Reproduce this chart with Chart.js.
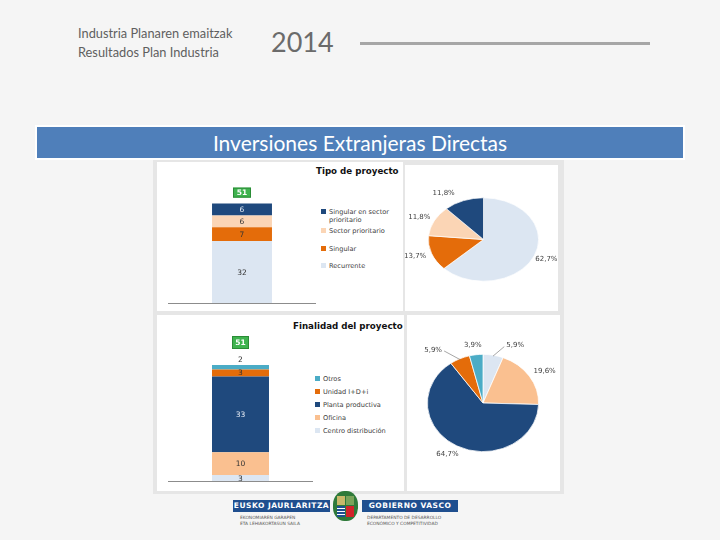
<!DOCTYPE html>
<html>
<head>
<meta charset="utf-8">
<script src="https://cdn.jsdelivr.net/npm/chart.js@4.4.0/dist/chart.umd.min.js"></script>
<style>
  html, body { margin: 0; padding: 0; }
  body { width: 720px; height: 540px; background: #f5f5f5; position: relative; overflow: hidden; font-family: Lato, "Open Sans", sans-serif; }
  .abs { position: absolute; }
  .hdr { color: #5f5f5f; font-size: 12.8px; line-height: 16px; white-space: nowrap; }
  .panel { background: #fff; }
  .ctitle { font-family: "DejaVu Sans", sans-serif; font-weight: bold; font-size: 8.7px; color: #111; white-space: nowrap; }
  .leg { font-family: "DejaVu Sans", sans-serif; font-size: 6.6px; color: #404040; white-space: nowrap; line-height: 8px; }
  .leg i { display: inline-block; width: 5px; height: 5px; margin-right: 3px; vertical-align: 0px; }
  canvas { position: absolute; }
  .logo-bar { background: #1f4f8f; color: #fff; font-family: "DejaVu Sans", sans-serif; font-weight: bold; font-size: 7.5px; line-height: 12px; text-align: center; letter-spacing: 0.5px; }
  .small { font-family: "DejaVu Sans", sans-serif; font-size: 4.4px; color: #555; line-height: 5.5px; white-space: nowrap; }
</style>
</head>
<body>
<div class="abs hdr" style="left:78px;top:25px;">Industria Planaren emaitzak</div>
<div class="abs hdr" style="left:78px;top:44px;">Resultados Plan Industria</div>
<div class="abs" style="left:271px;top:26px;font-size:27px;color:#6b6b6b;line-height:32px;">2014</div>
<div class="abs" style="left:360px;top:42px;width:290px;height:3px;background:#a6a6a6;"></div>

<div class="abs" style="left:35px;top:125px;width:650px;height:35px;background:#fff;"></div>
<div class="abs" style="left:37px;top:127px;width:646px;height:31px;background:#4f7fba;color:#fff;font-size:21px;line-height:31px;text-align:center;">Inversiones Extranjeras Directas</div>

<div class="abs" style="left:153px;top:160px;width:411px;height:334px;background:#e6e6e6;"></div>
<div class="abs panel" style="left:157px;top:162px;width:246px;height:149px;"></div>
<div class="abs panel" style="left:405px;top:165px;width:153px;height:146px;"></div>
<div class="abs panel" style="left:157px;top:315px;width:247px;height:176px;"></div>
<div class="abs panel" style="left:407px;top:315px;width:153px;height:176px;"></div>

<div class="abs ctitle" style="left:316px;top:166px;">Tipo de proyecto</div>
<div class="abs ctitle" style="left:293px;top:321px;">Finalidad del proyecto</div>

<div class="abs leg" id="legTipo" style="left:321px;top:208px;"></div>
<div class="abs leg" id="legFin" style="left:315px;top:375px;"></div>

<canvas id="barTipo"></canvas>
<canvas id="pieTipo"></canvas>
<canvas id="barFin"></canvas>
<canvas id="pieFin"></canvas>

<!-- logo -->
<div class="abs logo-bar" style="left:233px;top:500px;width:97px;height:12px;">EUSKO JAURLARITZA</div>
<div class="abs logo-bar" style="left:362px;top:500px;width:96px;height:12px;">GOBIERNO VASCO</div>
<div class="abs" style="left:333px;top:491px;width:25px;height:30px;border-radius:45%;background:#2f7a3a;"></div>
<div class="abs" style="left:337px;top:496px;width:8px;height:9px;background:#c9b86a;"></div>
<div class="abs" style="left:346px;top:496px;width:8px;height:9px;background:#7aa35a;"></div>
<div class="abs" style="left:337px;top:506px;width:8px;height:11px;background:repeating-linear-gradient(#1f4f8f 0 2px,#fff 2px 3px);"></div>
<div class="abs" style="left:346px;top:506px;width:8px;height:11px;background:#d2232a;"></div>
<div class="abs small" style="left:240px;top:515px;">EKONOMIAREN GARAPEN<br>ETA LEHIAKORTASUN SAILA</div>
<div class="abs small" style="left:367px;top:515px;">DEPARTAMENTO DE DESARROLLO<br>ECONÓMICO Y COMPETITIVIDAD</div>

<script>
// Tipo de proyecto (de abajo arriba en la barra, y en sentido horario en la tarta)
const tipoLabels = ["Recurrente", "Singular", "Sector prioritario", "Singular en sector prioritario"];
const tipoValues = [32, 7, 6, 6];
const tipoPct = ["62,7%", "13,7%", "11,8%", "11,8%"];

// Finalidad del proyecto
const finLabels = ["Centro distribución", "Oficina", "Planta productiva", "Unidad I+D+i", "Otros"];
const finValues = [3, 10, 33, 3, 2];
const finPct = ["5,9%", "19,6%", "64,7%", "5,9%", "3,9%"];

const totalProyectos = 51;

const tipoColors = ["#dce6f2", "#e46c0a", "#fbd5b5", "#1f497d"];
const finColors = ["#dce6f2", "#fac090", "#1f497d", "#e46c0a", "#4bacc6"];
const darkFill = "#1f497d";

function place(id, left, top, w, h) {
  const c = document.getElementById(id);
  c.width = w; c.height = h;
  c.style.left = left + "px"; c.style.top = top + "px";
  c.style.width = w + "px"; c.style.height = h + "px";
  return c.getContext("2d");
}

function buildLegend(id, labels, colors) {
  const el = document.getElementById(id);
  // la leyenda va de arriba abajo, al revés que la pila
  for (let i = labels.length - 1; i >= 0; i--) {
    const row = document.createElement("div");
    let txt = labels[i];
    let gap = id === "legTipo" ? 9.5 : 5;
    if (txt === "Singular en sector prioritario") {
      txt = "Singular en sector<br><span style='margin-left:8px'>prioritario</span>";
      gap = 3;
    }
    row.style.marginBottom = gap + "px";
    row.innerHTML = `<i style="background:${colors[i]}"></i>${txt}`;
    el.appendChild(row);
  }
}

// Etiquetas de segmentos, total en caja verde y línea base
const barLabels = {
  id: "barLabels",
  afterDatasetsDraw(chart, args, opts) {
    const ctx = chart.ctx;
    ctx.save();
    ctx.font = "7.5px 'DejaVu Sans'";
    ctx.textAlign = "center";
    ctx.textBaseline = "middle";
    let top = Infinity, cx = 0;
    chart.data.datasets.forEach((ds, i) => {
      const bar = chart.getDatasetMeta(i).data[0];
      top = Math.min(top, bar.y);
      cx = bar.x;
      let y = (bar.y + bar.base) / 2;
      const above = (opts.above || []).includes(i);
      if (above) y = bar.y - 5;
      ctx.fillStyle = ds.backgroundColor === darkFill && !above ? "#e8eef6" : "#333";
      ctx.fillText(String(ds.data[0]), bar.x, y + 0.5);
    });
    // línea base
    const a = chart.chartArea;
    ctx.strokeStyle = "#8c8c8c";
    ctx.lineWidth = 1;
    ctx.beginPath();
    ctx.moveTo(a.left, a.bottom - 0.5);
    ctx.lineTo(a.right, a.bottom - 0.5);
    ctx.stroke();
    // total
    const bw = opts.boxW, bh = opts.boxH;
    const by = top - opts.boxGap - bh;
    ctx.fillStyle = "#3fb34f";
    ctx.fillRect(cx - bw / 2, by, bw, bh);
    ctx.strokeStyle = "#2a8c36";
    ctx.strokeRect(cx - bw / 2 + 0.5, by + 0.5, bw - 1, bh - 1);
    ctx.fillStyle = "#fff";
    ctx.font = "bold 7.5px 'DejaVu Sans'";
    ctx.fillText(String(totalProyectos), cx, by + bh / 2 + 0.5);
    ctx.restore();
  }
};

function stackedBar(id, labels, values, colors, width, yMax, plugOpts) {
  return new Chart(document.getElementById(id).getContext("2d"), {
    type: "bar",
    data: {
      labels: [""],
      datasets: labels.map((l, i) => ({
        label: l,
        data: [values[i]],
        backgroundColor: colors[i],
        borderWidth: 0,
        barPercentage: 1,
        categoryPercentage: width
      }))
    },
    options: {
      responsive: false,
      animation: false,
      layout: { padding: 0 },
      plugins: { legend: { display: false }, tooltip: { enabled: false }, barLabels: plugOpts },
      scales: {
        x: { stacked: true, display: false },
        y: { stacked: true, display: false, min: 0, max: yMax }
      }
    },
    plugins: [barLabels]
  });
}

// Tarta achatada y porcentajes
const squashPie = {
  id: "squashPie",
  beforeDatasetsDraw(chart, args, opts) {
    const a = chart.chartArea;
    const cx = (a.left + a.right) / 2, cy = (a.top + a.bottom) / 2;
    chart.ctx.save();
    chart.ctx.translate(cx, cy);
    chart.ctx.scale(1, opts.sy);
    chart.ctx.translate(-cx, -cy);
  },
  afterDatasetsDraw(chart, args, opts) {
    const ctx = chart.ctx;
    ctx.restore();
    ctx.save();
    ctx.font = "7px 'DejaVu Sans'";
    ctx.fillStyle = "#404040";
    ctx.textAlign = "center";
    ctx.textBaseline = "middle";
    chart.getDatasetMeta(0).data.forEach((arc, i) => {
      const mid = (arc.startAngle + arc.endAngle) / 2;
      const r = arc.outerRadius;
      const ux = Math.cos(mid), uy = Math.sin(mid);
      const n = (opts.nudge && opts.nudge[i]) || 0;
      const lx = arc.x + ux * r * 1.2 + n, ly = arc.y + uy * r * 1.2 * opts.sy;
      if (opts.leaders && opts.leaders.includes(i)) {
        ctx.strokeStyle = "#7f7f7f";
        ctx.lineWidth = 0.7;
        ctx.beginPath();
        const ex = arc.x + ux * r * 0.98, ey = arc.y + uy * r * 0.98 * opts.sy;
        const sx = lx + (n > 0 ? -11 : 11);
        ctx.moveTo(ex, ey);
        ctx.lineTo(sx, ly + 1);
        ctx.stroke();
      }
      ctx.fillText(opts.texts[i], lx, ly);
    });
    ctx.restore();
  }
};

function pie(id, values, colors, texts, pad, pluginOpts) {
  return new Chart(document.getElementById(id).getContext("2d"), {
    type: "pie",
    data: { labels: texts, datasets: [{ data: values, backgroundColor: colors, borderColor: "#fff", borderWidth: 0.8 }] },
    options: {
      responsive: false,
      animation: false,
      layout: { padding: pad },
      plugins: { legend: { display: false }, tooltip: { enabled: false }, squashPie: Object.assign({ texts }, pluginOpts) }
    },
    plugins: [squashPie]
  });
}

place("barTipo", 168, 180, 148, 124);
place("pieTipo", 405, 165, 153, 145);
place("barFin", 168, 326, 145, 156);
place("pieFin", 405, 315, 153, 175);

buildLegend("legTipo", tipoLabels, tipoColors);
buildLegend("legFin", finLabels, finColors);

// escala: 51 proyectos ocupan ~100 px arriba y ~117 px abajo
stackedBar("barTipo", tipoLabels, tipoValues, tipoColors, 0.405, 63, { boxW: 18, boxH: 10, boxGap: 6 });
stackedBar("barFin", finLabels, finValues, finColors, 0.393, 68, { boxW: 17, boxH: 13, boxGap: 16, above: [4] });

pie("pieTipo", tipoValues, tipoColors, tipoPct, { left: 23, right: 19, top: 19, bottom: 15 }, { sy: 0.757, nudge: [2, -6, -5, -16] });
pie("pieFin", finValues, finColors, finPct, { left: 22, right: 19, top: 32, bottom: 31 }, { sy: 0.875, nudge: [20, 6, -4, -22, -2], leaders: [0, 3] });
</script>
</body>
</html>
